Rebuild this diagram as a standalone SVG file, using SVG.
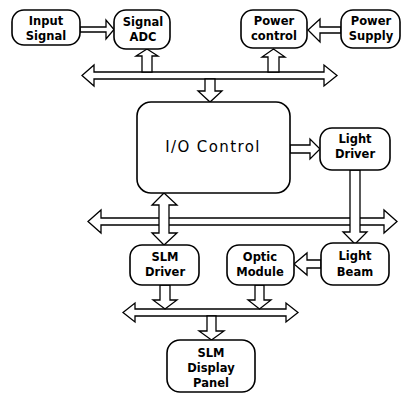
<svg xmlns="http://www.w3.org/2000/svg" width="402" height="394" viewBox="0 0 402 394">
<style>
.box{fill:#fff;stroke:#000;stroke-width:1.6}
.arr{fill:#fff;stroke:#000;stroke-width:1.3;stroke-linejoin:miter}
.lbl{font-family:"DejaVu Sans","Liberation Sans",sans-serif;font-weight:bold;font-size:11.5px;text-anchor:middle;fill:#000}
.big{font-family:"DejaVu Sans","Liberation Sans",sans-serif;font-size:15px;letter-spacing:1.4px;text-anchor:middle;fill:#000}
</style>
<rect width="402" height="394" fill="#fff"/>
<g id="connectors">
  <!-- buses -->
  <polygon class="arr" points="82,75.5 94,65 94,72 324,72 324,65 337,75.5 324,86 324,79 94,79 94,86"/>
  <polygon class="arr" points="88,221.5 101,210 101,218 384,218 384,210 397,221.5 384,233 384,225 101,225 101,233"/>
  <polygon class="arr" points="123,312.5 135,303 135,309 286,309 286,303 298,312.5 286,322 286,316 135,316 135,322"/>
  <!-- horizontal arrows -->
  <polygon class="arr" points="80,27 106,27 106,20 114,29.5 106,39 106,32 80,32"/>
  <polygon class="arr" points="341,27 320,27 320,19 308,30 320,42 320,33 341,33"/>
  <polygon class="arr" points="290,145 310,145 310,139 320,149 310,159 310,153 290,153"/>
  <polygon class="arr" points="321,260 307,260 307,253 294,264 307,275 307,268 321,268"/>
  <!-- vertical arrows -->
  <polygon class="arr" points="142,72 142,56 136,56 147,49 158,56 152,56 152,72"/>
  <polygon class="arr" points="268,72 268,57 262,57 273.5,49 285,57 279,57 279,72"/>
  <polygon class="arr" points="205,79 205,91 198,91 210,102 222,91 215,91 215,79"/>
  <polygon class="arr" points="350,170 350,232 343,232 355,244 367,232 360,232 360,170"/>
  <polygon class="arr" points="164,193 177,205 169,205 169,233 177,233 164,245 152,233 159,233 159,205 152,205"/>
  <polygon class="arr" points="160,285 160,300 153,300 165,309 177,300 170,300 170,285"/>
  <polygon class="arr" points="255,285 255,300 248,300 259.5,309 271,300 264,300 264,285"/>
  <polygon class="arr" points="207,316 207,331 199,331 211.5,340 224,331 216,331 216,316"/>
</g>
<g id="input-signal">
  <rect class="box" x="12" y="10" width="68" height="35" rx="12"/>
  <text class="lbl" x="46" y="25">Input</text>
  <text class="lbl" x="46" y="40">Signal</text>
</g>
<g id="signal-adc">
  <rect class="box" x="114" y="10" width="56" height="39" rx="12"/>
  <text class="lbl" x="143" y="26">Signal</text>
  <text class="lbl" x="143" y="41">ADC</text>
</g>
<g id="power-control">
  <rect class="box" x="241" y="10" width="66" height="38" rx="12"/>
  <text class="lbl" x="274" y="25">Power</text>
  <text class="lbl" x="274" y="40">control</text>
</g>
<g id="power-supply">
  <rect class="box" x="341" y="10" width="59" height="38" rx="12"/>
  <text class="lbl" x="371" y="25">Power</text>
  <text class="lbl" x="371" y="40">Supply</text>
</g>
<g id="io-control">
  <rect class="box" x="137" y="102" width="153" height="91" rx="14"/>
  <text class="big" x="213" y="152">I/O Control</text>
</g>
<g id="light-driver">
  <rect class="box" x="320" y="128" width="70" height="42" rx="12"/>
  <text class="lbl" x="355" y="143">Light</text>
  <text class="lbl" x="355" y="158">Driver</text>
</g>
<g id="slm-driver">
  <rect class="box" x="130" y="245" width="69" height="40" rx="12"/>
  <text class="lbl" x="165" y="261">SLM</text>
  <text class="lbl" x="165" y="276">Driver</text>
</g>
<g id="optic-module">
  <rect class="box" x="227" y="245" width="67" height="40" rx="12"/>
  <text class="lbl" x="260" y="261">Optic</text>
  <text class="lbl" x="260" y="276">Module</text>
</g>
<g id="light-beam">
  <rect class="box" x="321" y="243" width="68" height="42" rx="12"/>
  <text class="lbl" x="355" y="260">Light</text>
  <text class="lbl" x="355" y="276">Beam</text>
</g>
<g id="slm-display-panel">
  <rect class="box" x="167" y="340" width="88" height="52" rx="13"/>
  <text class="lbl" x="211" y="357">SLM</text>
  <text class="lbl" x="211" y="372">Display</text>
  <text class="lbl" x="211" y="387">Panel</text>
</g>
</svg>
